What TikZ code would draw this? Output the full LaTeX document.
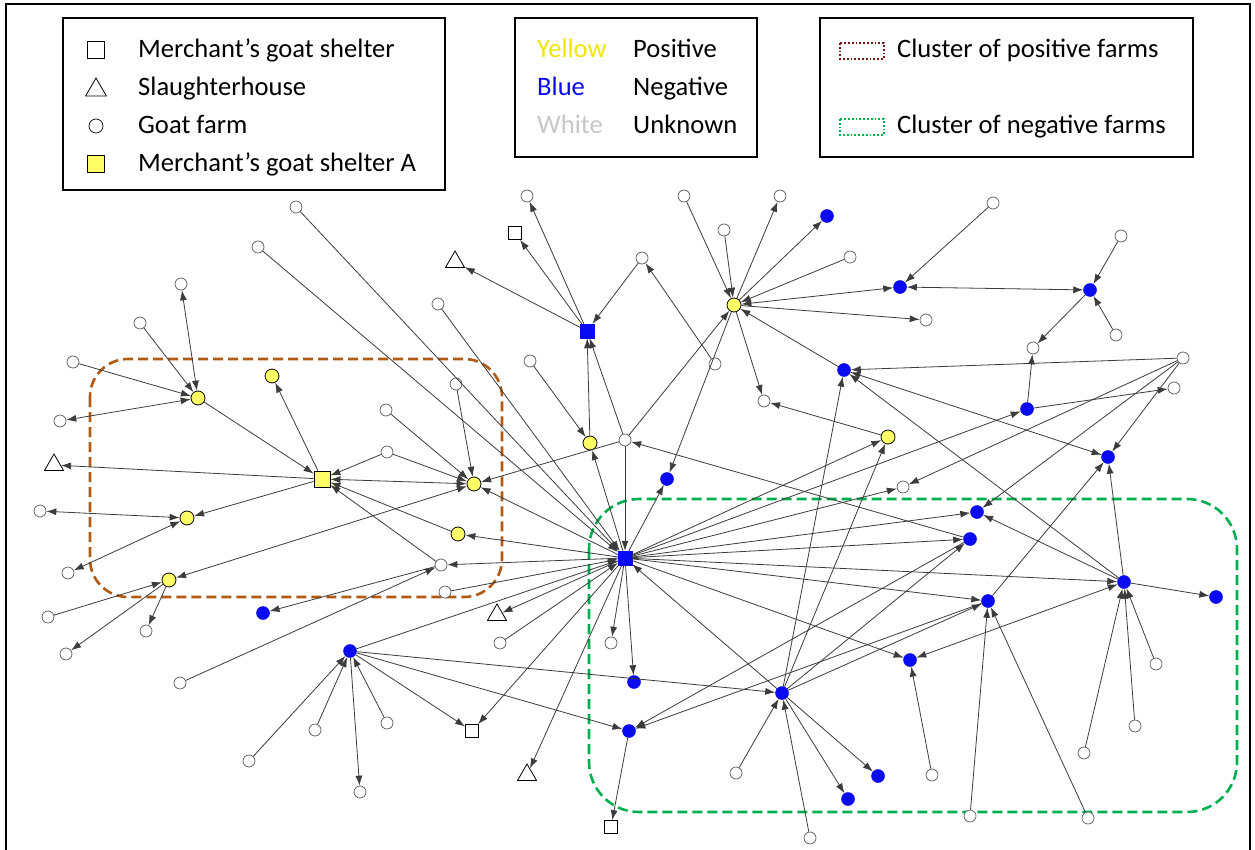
\documentclass[tikz,border=0pt]{standalone}
\usepackage{fontspec}
\setmainfont{Carlito}
\usetikzlibrary{arrows.meta,shapes.geometric}
\definecolor{cbrown}{RGB}{176,90,20}
\definecolor{cgreen}{RGB}{0,176,80}
\definecolor{cmaroon}{RGB}{128,20,20}
\definecolor{cyel}{RGB}{255,255,102}
\definecolor{cblue}{RGB}{10,10,240}
\definecolor{cline}{RGB}{60,60,60}
\begin{document}
\begin{tikzpicture}[x=1pt,y=-1pt,
  wn/.style={circle,minimum size=12pt,inner sep=0pt,draw=black!65,fill=white,line width=0.7pt},
  bn/.style={circle,minimum size=13pt,inner sep=0pt,draw=cblue,fill=cblue,line width=0.5pt},
  yn/.style={circle,minimum size=14pt,inner sep=0pt,draw=black,fill=cyel,line width=0.8pt},
  wsq/.style={rectangle,minimum size=13pt,inner sep=0pt,draw=black,fill=white,line width=0.8pt},
  bsq/.style={rectangle,minimum size=14pt,inner sep=0pt,draw=cblue,fill=cblue},
  ysq/.style={rectangle,minimum size=16pt,inner sep=0pt,draw=black,fill=cyel,line width=0.8pt},
  tri/.style={regular polygon,regular polygon sides=3,minimum size=22pt,inner sep=0pt,draw=black,fill=white,line width=0.8pt},
  ed/.style={-{Latex[length=10pt,width=7pt]},draw=cline,line width=0.8pt},
  bd/.style={{Latex[length=10pt,width=7pt]}-{Latex[length=10pt,width=7pt]},draw=cline,line width=0.8pt},
  lbox/.style={draw=black,line width=1.3pt},
  ltxt/.style={anchor=base west,inner sep=0pt,font=\fontsize{26.6}{30}\selectfont}]
\useasboundingbox (0,0) rectangle (1255,850);
\fill[white] (0,0) rectangle (1255,850);
% frame
\draw[line width=2pt] (6,860) -- (6,4) -- (1250,4) -- (1250,860);

% legend boxes
\draw[lbox] (63,18) rectangle (445,190);
\draw[lbox] (515,18) rectangle (757,157);
\draw[lbox] (820,18) rectangle (1193,157);

\node[wsq,minimum size=17pt] (lg1) at (96,50) {};
\node[tri,minimum size=24pt] (lg2) at (96,90) {};
\node[wn,minimum size=14pt,draw=black] (lg3) at (96,126) {};
\node[ysq,minimum size=17pt] (lg4) at (96,164) {};
\node[ltxt] (lt1) at (138,58) {Merchant’s goat shelter};
\node[ltxt] (lt2) at (138,96) {Slaughterhouse};
\node[ltxt] (lt3) at (138,134) {Goat farm};
\node[ltxt] (lt4) at (138,172) {Merchant’s goat shelter A};

\node[ltxt,text={rgb,255:red,240;green,230;blue,0}] (lc1) at (537,58) {Yellow};
\node[ltxt,text=cblue] (lc2) at (537,96) {Blue};
\node[ltxt,text=black!22] (lc3) at (537,134) {White};
\node[ltxt] (lv1) at (633,58) {Positive};
\node[ltxt] (lv2) at (633,96) {Negative};
\node[ltxt] (lv3) at (633,134) {Unknown};

\draw[cmaroon,line width=1.8pt,dotted] (840,43) rectangle (884,59);
\draw[cgreen,line width=1.8pt,dotted] (840,119) rectangle (884,135);
\node[ltxt] (lk1) at (897,58) {Cluster of positive farms};
\node[ltxt] (lk2) at (897,134) {Cluster of negative farms};

% clusters
\draw[cbrown,line width=2.6pt,dash pattern=on 10pt off 5pt,rounded corners=38pt] (90,359) rectangle (502,597);
\draw[cgreen,line width=2.6pt,dash pattern=on 10pt off 5pt,rounded corners=50pt] (589,499) rectangle (1237,812);

% nodes: white farms
\node[wn] (w1) at (296,207) {};
\node[wn] (w2) at (258,247) {};
\node[wn] (w3) at (527,196) {};
\node[wn] (w4) at (642,258) {};
\node[wn] (w5) at (684,196) {};
\node[wn] (w6) at (724,230) {};
\node[wn] (w7) at (780,196) {};
\node[wn] (w8) at (850,257) {};
\node[wn] (w9) at (926,320) {};
\node[wn] (w10) at (993,203) {};
\node[wn] (w11) at (1121,236) {};
\node[wn] (w12) at (1116,335) {};
\node[wn] (w13) at (1033,348) {};
\node[wn] (w14) at (1183,358) {};
\node[wn] (w15) at (1174,388) {};
\node[wn] (w16) at (715,364) {};
\node[wn] (w17) at (764,401) {};
\node[wn] (w18) at (903,487) {};
\node[wn] (w19) at (625,440) {};
\node[wn] (w20) at (530,361) {};
\node[wn] (w21) at (438,304) {};
\node[wn] (w22) at (456,384) {};
\node[wn] (w23) at (181,284) {};
\node[wn] (w24) at (140,323) {};
\node[wn] (w25) at (73,362) {};
\node[wn] (w26) at (60,421) {};
\node[wn] (w27) at (387,452) {};
\node[wn] (w28) at (386,410) {};
\node[wn] (w29) at (40,511) {};
\node[wn] (w30) at (68,573) {};
\node[wn] (w31) at (441,565) {};
\node[wn] (w32) at (48,617) {};
\node[wn] (w33) at (146,631) {};
\node[wn] (w34) at (66,654) {};
\node[wn] (w35) at (445,592) {};
\node[wn] (w36) at (180,683) {};
\node[wn] (w37) at (249,761) {};
\node[wn] (w38) at (315,730) {};
\node[wn] (w39) at (387,723) {};
\node[wn] (w40) at (360,792) {};
\node[wn] (w41) at (500,643) {};
\node[wn] (w42) at (611,643) {};
\node[wn] (w43) at (736,773) {};
\node[wn] (w44) at (810,838) {};
\node[wn] (w45) at (932,775) {};
\node[wn] (w46) at (970,816) {};
\node[wn] (w47) at (1088,818) {};
\node[wn] (w48) at (1084,753) {};
\node[wn] (w49) at (1135,726) {};
\node[wn] (w50) at (1156,664) {};
% blue farms
\node[bn] (b1) at (827,216) {};
\node[bn] (b2) at (900,287) {};
\node[bn] (b3) at (1090,290) {};
\node[bn] (b4) at (844,370) {};
\node[bn] (b5) at (1027,409) {};
\node[bn] (b6) at (1108,457) {};
\node[bn] (b7) at (667,479) {};
\node[bn] (b8) at (263,613) {};
\node[bn] (b9) at (350,651) {};
\node[bn] (b10) at (634,682) {};
\node[bn] (b11) at (629,731) {};
\node[bn] (b12) at (782,693) {};
\node[bn] (b13) at (848,799) {};
\node[bn] (b14) at (878,776) {};
\node[bn] (b15) at (910,660) {};
\node[bn] (b16) at (988,601) {};
\node[bn] (b17) at (1124,582) {};
\node[bn] (b18) at (1216,597) {};
\node[bn] (b19) at (977,512) {};
\node[bn] (b20) at (970,539) {};
% yellow farms
\node[yn] (y1) at (734,305) {};
\node[yn] (y2) at (888,437) {};
\node[yn] (y3) at (590,443) {};
\node[yn] (y4) at (198,398) {};
\node[yn] (y5) at (272,376) {};
\node[yn] (y6) at (474,484) {};
\node[yn] (y7) at (187,518) {};
\node[yn] (y8) at (458,534) {};
\node[yn] (y9) at (169,580) {};
% shelters and slaughterhouses
\node[wsq] (s1) at (515,233) {};
\node[wsq] (s2) at (472,731) {};
\node[wsq] (s3) at (611,827) {};
\node[bsq] (bs) at (587,331) {};
\node[bsq] (bc) at (625,558) {};
\node[ysq] (ys) at (322,479) {};
\node[tri] (t1) at (455,262) {};
\node[tri] (t2) at (54,465) {};
\node[tri] (t3) at (497,615) {};
\node[tri] (t4) at (527,775) {};

% edges - left cluster
\draw[bd] (w23) -- (y4);
\draw[ed] (w24) -- (y4);
\draw[ed] (w25) -- (y4);
\draw[bd] (w26) -- (y4);
\draw[ed] (y4) -- (ys);
\draw[ed] (ys) -- (y5);
\draw[ed] (ys) -- (t2);
\draw[ed] (ys) -- (y7);
\draw[ed] (w27) -- (ys);
\draw[ed] (w27) -- (y6);
\draw[ed] (w28) -- (y6);
\draw[bd] (ys) -- (y6);
\draw[ed] (y8) -- (ys);
\draw[ed] (w31) -- (ys);
\draw[ed] (w22) -- (y6);
\draw[ed] (w19) -- (y6);
\draw[ed] (bc) -- (y6);
\draw[bd] (y6) -- (y9);
\draw[ed] (w32) -- (y9);
\draw[ed] (y9) -- (w33);
\draw[ed] (y9) -- (w34);
\draw[bd] (y7) -- (w29);
\draw[bd] (y7) -- (w30);
\draw[ed] (bc) -- (w31);
\draw[ed] (w31) -- (b8);
\draw[ed] (w36) -- (w31);
\draw[ed] (w35) -- (bc);
\draw[ed] (bc) -- (t3);
\draw[ed] (bc) -- (y8);
\draw[ed] (w1) -- (bc);
\draw[ed] (w2) -- (bc);
\draw[ed] (w21) -- (bc);
\draw[ed] (w20) -- (y3);
% top centre
\draw[ed] (bs) -- (w3);
\draw[ed] (bs) -- (s1);
\draw[ed] (bs) -- (t1);
\draw[ed] (w4) -- (bs);
\draw[ed] (y3) -- (bs);
\draw[ed] (w19) -- (bs);
\draw[ed] (bc) -- (y3);
\draw[ed] (w19) -- (bc);
\draw[ed] (w19) -- (y1);
\draw[ed] (w16) -- (w4);
\draw[ed] (w5) -- (y1);
\draw[ed] (w6) -- (y1);
\draw[ed] (y1) -- (w7);
\draw[ed] (y1) -- (b1);
\draw[ed] (w8) -- (y1);
\draw[bd] (b2) -- (y1);
\draw[ed] (y1) -- (w9);
\draw[ed] (b4) -- (y1);
\draw[ed] (y1) -- (w17);
\draw[ed] (y1) -- (b7);
\draw[ed] (y2) -- (w17);
\draw[ed] (bc) -- (y2);
\draw[ed] (b12) -- (y2);
% top right
\draw[ed] (w10) -- (b2);
\draw[bd] (b2) -- (b3);
\draw[ed] (w11) -- (b3);
\draw[ed] (w12) -- (b3);
\draw[ed] (b3) -- (w13);
\draw[ed] (b5) -- (w13);
\draw[ed] (b5) -- (w15);
\draw[ed] (bc) -- (b5);
\draw[ed] (w14) -- (b4);
\draw[bd] (b4) -- (b6);
\draw[ed] (b17) -- (b4);
\draw[ed] (b12) -- (b4);
\draw[ed] (w14) -- (b6);
\draw[ed] (b16) -- (b6);
\draw[ed] (b17) -- (b6);
\draw[ed] (w14) -- (b19);
\draw[ed] (bc) -- (b19);
\draw[ed] (b17) -- (b19);
\draw[ed] (w14) -- (w18);
\draw[ed] (bc) -- (w18);
\draw[ed] (bc) -- (b7);
% negative cluster
\draw[ed] (bc) -- (b20);
\draw[ed] (b20) -- (w19);
\draw[ed] (b12) -- (b20);
\draw[ed] (b20) -- (b11);
\draw[ed] (bc) -- (b17);
\draw[ed] (b17) -- (b18);
\draw[ed] (w48) -- (b17);
\draw[ed] (w49) -- (b17);
\draw[ed] (w50) -- (b17);
\draw[bd] (b17) -- (b15);
\draw[ed] (bc) -- (b16);
\draw[ed] (b12) -- (b16);
\draw[ed] (w46) -- (b16);
\draw[ed] (w47) -- (b16);
\draw[ed] (b16) -- (b11);
\draw[ed] (bc) -- (b15);
\draw[ed] (w45) -- (b15);
\draw[ed] (w43) -- (b12);
\draw[ed] (w44) -- (b12);
\draw[ed] (b12) -- (b13);
\draw[ed] (b12) -- (b14);
\draw[ed] (b9) -- (b12);
\draw[ed] (b12) -- (bc);
\draw[ed] (bc) -- (b10);
\draw[ed] (b9) -- (b11);
\draw[ed] (b11) -- (s3);
% bottom left
\draw[ed] (b9) -- (bc);
\draw[ed] (b9) -- (s2);
\draw[ed] (b9) -- (w40);
\draw[ed] (w37) -- (b9);
\draw[ed] (w38) -- (b9);
\draw[ed] (w39) -- (b9);
\draw[ed] (bc) -- (s2);
\draw[ed] (bc) -- (t4);
\draw[ed] (w41) -- (bc);
\draw[ed] (bc) -- (w42);
\end{tikzpicture}
\end{document}
